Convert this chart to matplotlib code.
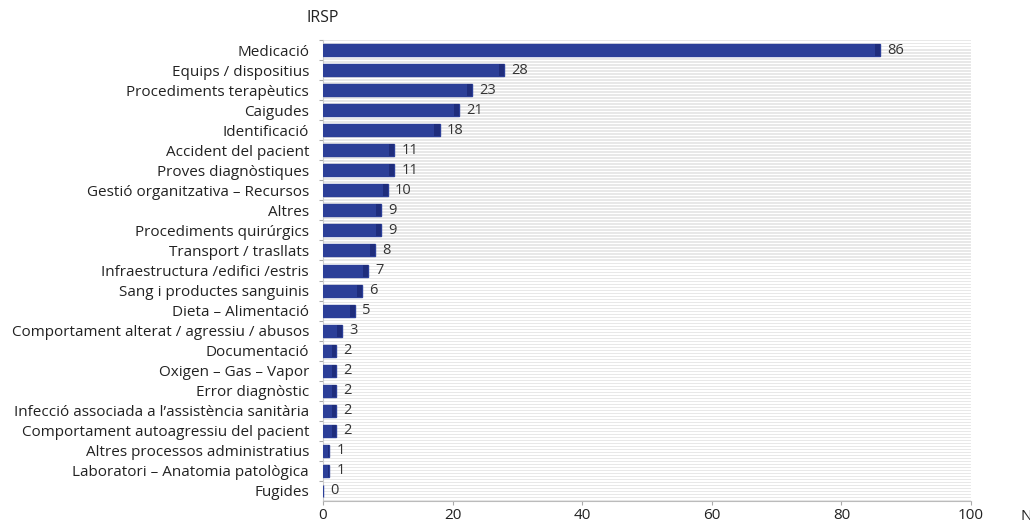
import matplotlib
matplotlib.use("Agg")
import matplotlib.pyplot as plt
import numpy as np

categories = ["Medicació", "Equips / dispositius", "Procediments terapèutics", "Caigudes",
              "Identificació", "Accident del pacient", "Proves diagnòstiques",
              "Gestió organitzativa – Recursos", "Altres", "Procediments quirúrgics",
              "Transport / trasllats", "Infraestructura /edifici /estris",
              "Sang i productes sanguinis", "Dieta – Alimentació",
              "Comportament alterat / agressiu / abusos", "Documentació",
              "Oxigen – Gas – Vapor", "Error diagnòstic",
              "Infecció associada a l’assistència sanitària",
              "Comportament autoagressiu del pacient", "Altres processos administratius",
              "Laboratori – Anatomia patològica", "Fugides"]
values = [86, 28, 23, 21, 18, 11, 11, 10, 9, 9, 8, 7, 6, 5, 3, 2, 2, 2, 2, 2, 1, 1, 0]
xticks = [0, 20, 40, 60, 80, 100]

plt.rcParams['font.family'] = ['Open Sans', 'DejaVu Sans']

fig = plt.figure(figsize=(10.30, 5.24), dpi=100)
ax = fig.add_axes([0.3136, 0.044, 0.6291, 0.8795])

n = len(categories)
y = np.arange(n)
ax.set_ylim(n - 0.5, -0.5)
ax.set_xlim(0, 100)

# striped background
for s in np.arange(-0.5, n - 0.5, 0.15):
    ax.axhspan(s, s + 0.07, color='#e8e8e8', lw=0, zorder=0)

bar_color = '#2c3f98'
ax.barh(y, values, height=0.6, color=bar_color, edgecolor=bar_color, linewidth=1.0, zorder=3)
# darker right edge shading
for yi, v in zip(y, values):
    if v > 0:
        w = min(0.8, v * 0.3)
        ax.barh(yi, w, left=v - w, height=0.6, color='#1f2d7c', lw=0, zorder=4)

for yi, v in zip(y, values):
    ax.annotate(str(v), (v, yi), xytext=(5, 0), textcoords='offset points',
                va='center', ha='left', fontsize=10.5, color='#333333')

ax.set_yticks(np.arange(-0.5, n - 0.5, 1), minor=False)
ax.set_yticklabels([])
ax.set_yticks(y, minor=True)
ax.set_yticklabels(categories, minor=True, fontsize=11, color='#222222')
ax.tick_params(axis='y', which='minor', length=0, pad=10)
ax.tick_params(axis='y', which='major', length=3, color='#aaaaaa', direction='out')

ax.set_xticks(xticks)
ax.set_xticklabels([str(t) for t in xticks], fontsize=11, color='#222222')
ax.tick_params(axis='x', length=3, color='#aaaaaa', pad=2)

for sp in ['top', 'right']:
    ax.spines[sp].set_visible(False)
ax.spines['left'].set_color('#cccccc')
ax.spines['bottom'].set_color('#bbbbbb')

fig.text(307 / 1030, 1 - 18 / 524, "IRSP", fontsize=11.5, va='center', ha='left', color='#222222')
fig.text(1020 / 1030, 1 - 517 / 524, "N", fontsize=11, va='center', ha='left', color='#222222')

fig.savefig("out.png", dpi=100)
